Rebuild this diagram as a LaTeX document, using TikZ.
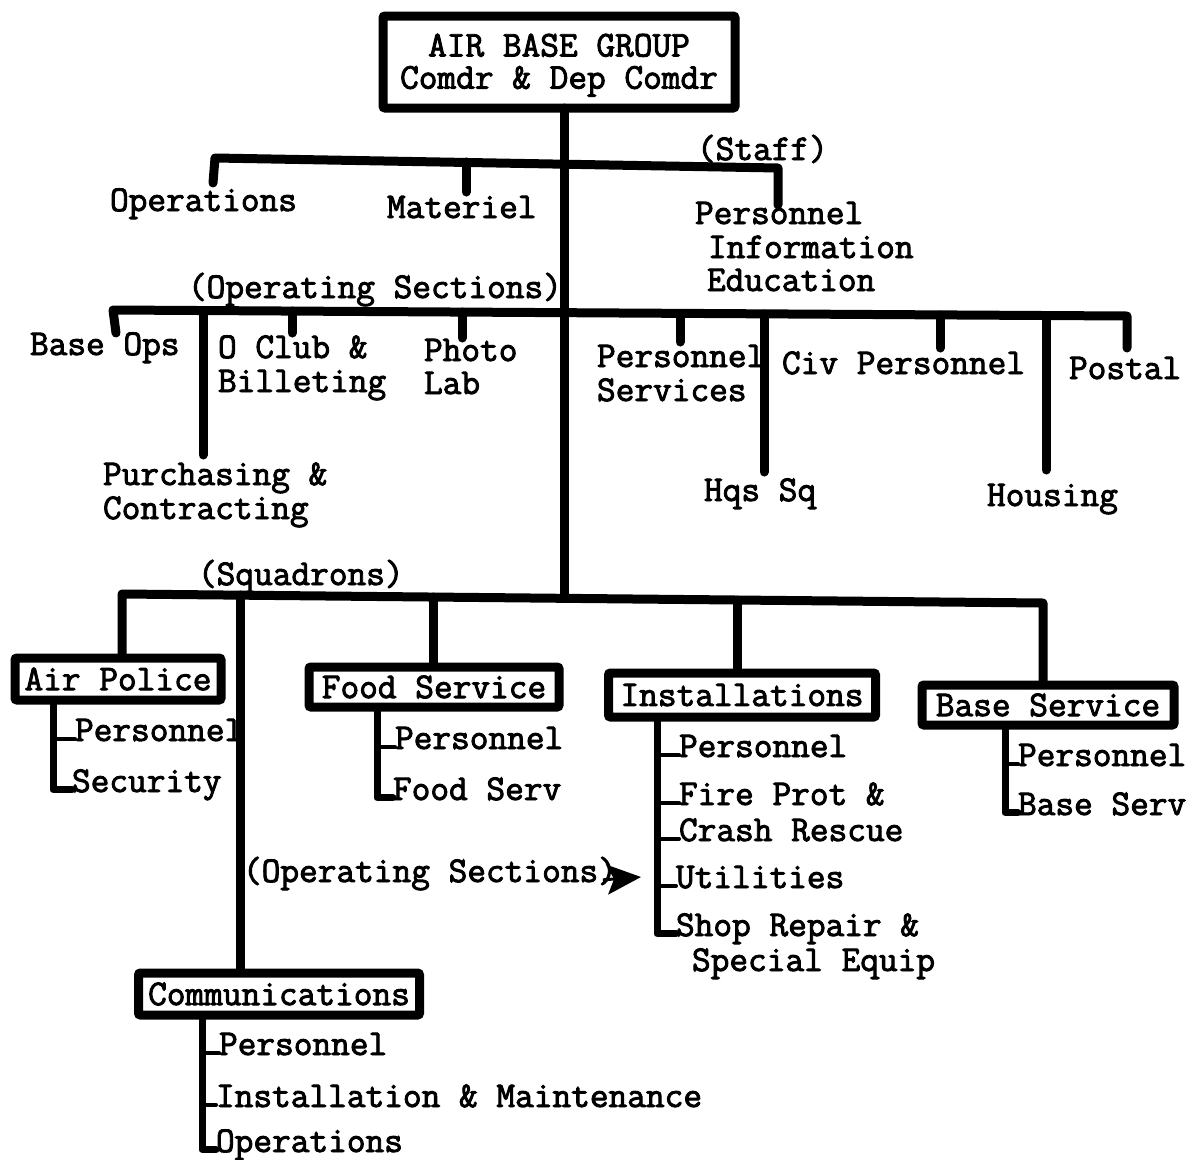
\documentclass[tikz,border=0pt]{standalone}
\usepackage{fontspec}
\newfontfamily\typew{Latin Modern Mono}[FakeBold=2.5]
\usetikzlibrary{arrows.meta}
\newcommand\tyface{\typew\fontsize{36.3}{32}\selectfont}
\begin{document}
\begin{tikzpicture}[x=1pt,y=-1pt,
  lbl/.style={font=\tyface, inner sep=0pt, outer sep=0pt, anchor=base west},
  unit/.style={draw, fill=white, line width=9pt, rounded corners=2pt, inner sep=0pt,
               outer sep=0pt, font=\tyface, align=center},
  bar/.style={line width=9pt, line cap=round, line join=round},
  sub/.style={line width=7pt, line cap=round, line join=round},
  tick/.style={line width=4pt, line cap=round},
  arr/.style={line width=3pt, -{Stealth[length=34pt, width=30pt, inset=7pt]}}]
\useasboundingbox (0,0) rectangle (1190,1159);
\fill[white] (0,0) rectangle (1190,1159);

% ---------- junction points on the bars ----------
\coordinate (stL) at (215,158);  \coordinate (stM) at (466,162);  \coordinate (stR) at (778,168);
\coordinate (sOpsEnd) at (213,183); \coordinate (sMatEnd) at (466,192); \coordinate (sPersEnd) at (778,205);

\coordinate (op1) at (113,310);  \coordinate (op2) at (203,310.5); \coordinate (op3) at (292,311);
\coordinate (op4) at (462,312);  \coordinate (op6) at (680,313.4); \coordinate (op7) at (764,314);
\coordinate (op8) at (940,315);  \coordinate (op9) at (1046,315.5); \coordinate (op10) at (1127,316);
\coordinate (op1e) at (116,333); \coordinate (op2e) at (203,455);  \coordinate (op3e) at (292,333);
\coordinate (op4e) at (462,338); \coordinate (op6e) at (680,342);  \coordinate (op7e) at (764,472);
\coordinate (op8e) at (940,348); \coordinate (op9e) at (1046,470); \coordinate (op10e) at (1127,348);

\coordinate (sq1) at (122,594);  \coordinate (sq2) at (240,595);  \coordinate (sq3) at (433,597);
\coordinate (sqT) at (564,598);  \coordinate (sq5) at (737,600);  \coordinate (sq6) at (1043,603);

\coordinate (apV) at (53,0);  \coordinate (fsV) at (377,0);  \coordinate (inV) at (657,0);
\coordinate (bsV) at (1005,0); \coordinate (cmV) at (202,0);
\coordinate (arrtip) at (641,877);

% ---------- headquarters ----------
\node[unit, minimum width=352pt, minimum height=92pt] (top) at (559,62)
  {\raisebox{-4pt}[\height][\depth]{\begin{tabular}{@{}c@{}}AIR BASE GROUP\\Comdr \& Dep Comdr\end{tabular}}};

% ---------- staff ----------
\node[lbl] (staff) at (697,160) {(Staff)};
\node[lbl] (sOps)  at (110,211) {Operations};
\node[lbl] (sMat)  at (387,218) {Materiel};
\node[lbl] (sPers) at (695,224) {Personnel};
\node[lbl] (sInfo) at (708,258) {Information};
\node[lbl] (sEdu)  at (707,291) {Education};

% ---------- operating sections ----------
\node[lbl] (opsl)    at (188,298) {(Operating Sections)};
\node[lbl] (baseops) at (30,355)  {Base Ops};
\node[lbl] (oclubA)  at (218,358) {O Club \&};
\node[lbl] (oclubB)  at (218,392) {Billeting};
\node[lbl] (photoA)  at (424,361) {Photo};
\node[lbl] (photoB)  at (424,394) {Lab};
\node[lbl] (persA)   at (597,367) {Personnel};
\node[lbl] (persB)   at (597,401) {Services};
\node[lbl] (civ)     at (782,374) {Civ Personnel};
\node[lbl] (postal)  at (1069,379) {Postal};
\node[lbl] (purchA)  at (103,485) {Purchasing \&};
\node[lbl] (purchB)  at (103,519) {Contracting};
\node[lbl] (hqs)     at (704,501) {Hqs Sq};
\node[lbl] (housing) at (987,506) {Housing};

% ---------- squadron sections ----------
\node[lbl] (sql) at (198,585) {(Squadrons)};
\node[lbl] (apPers) at (75,741)  {Personnel};
\node[lbl] (apSec)  at (72,792)  {Security};
\node[lbl] (fsPers) at (395,749) {Personnel};
\node[lbl] (fsServ) at (393,800) {Food Serv};
\node[lbl] (inPers)  at (679,757) {Personnel};
\node[lbl] (inFire)  at (679,805) {Fire Prot \&};
\node[lbl] (inCrash) at (679,841) {Crash Rescue};
\node[lbl] (inUtil)  at (676,888) {Utilities};
\node[lbl] (inShopA) at (676,936) {Shop Repair \&};
\node[lbl] (inShopB) at (692,971) {Special Equip};
\node[lbl] (bsPers) at (1018,766) {Personnel};
\node[lbl] (bsServ) at (1018,815) {Base Serv};
\node[lbl] (cmPers) at (219,1055) {Personnel};
\node[lbl] (cmInst) at (216,1107) {Installation \& Maintenance};
\node[lbl] (cmOps)  at (216,1152) {Operations};
\node[lbl] (opsl2)  at (243,882) {(Operating Sections)};

% ---------- main trunk and bars ----------
\draw[bar] (top.south -| sqT) -- (sqT);
\draw[bar] (sOpsEnd) -- (stL) -- (stR) -- (sPersEnd);
\draw[bar] (stM) -- (sMatEnd);

\draw[bar] (op1e) -- (op1) -- (op10) -- (op10e);
\draw[bar] (op2) -- (op2e);
\draw[bar] (op3) -- (op3e);
\draw[bar] (op4) -- (op4e);
\draw[bar] (op6) -- (op6e);
\draw[bar] (op7) -- (op7e);
\draw[bar] (op8) -- (op8e);
\draw[bar] (op9) -- (op9e);

% ---------- squadron boxes ----------
\draw[bar] (sq1 |- 0,679) -- (sq1) -- (sq6) -- (sq6 |- 0,705);
\draw[bar] (sq2) -- (sq2 |- 0,994);
\draw[bar] (sq3) -- (sq3 |- 0,687);
\draw[bar] (sq5) -- (sq5 |- 0,695);

\node[unit, minimum width=206pt, minimum height=42pt] (apBox) at (118,679)  {Air Police};
\node[unit, minimum width=250pt, minimum height=40pt] (fsBox) at (434,687)  {Food Service};
\node[unit, minimum width=267pt, minimum height=44pt] (inBox) at (742,695)  {Installations};
\node[unit, minimum width=252pt, minimum height=40pt] (bsBox) at (1048,705) {Base Service};
\node[unit, minimum width=281pt, minimum height=42pt] (cmBox) at (279,994)  {Communications};

% ---------- section lists under each squadron ----------
\draw[sub] (apBox.south -| apV) |- (apSec.mid west);
\draw[tick] (apV |- apPers.mid west) -- (apPers.mid west);

\draw[sub] (fsBox.south -| fsV) |- (fsServ.mid west);
\draw[tick] (fsV |- fsPers.mid west) -- (fsPers.mid west);

\draw[sub] (inBox.south -| inV) |- (inShopA.mid west);
\draw[tick] (inV |- inPers.mid west) -- (inPers.mid west);
\draw[tick] (inV |- inFire.mid west) -- (inFire.mid west);
\draw[tick] (inV |- inCrash.mid west) -- (inCrash.mid west);
\draw[tick] (inV |- inUtil.mid west) -- (inUtil.mid west);

\draw[sub] (bsBox.south -| bsV) |- (bsServ.mid west);
\draw[tick] (bsV |- bsPers.mid west) -- (bsPers.mid west);

\draw[sub] (cmBox.south -| cmV) |- (cmOps.mid west);
\draw[tick] (cmV |- cmPers.mid west) -- (cmPers.mid west);
\draw[tick] (cmV |- cmInst.mid west) -- (cmInst.mid west);

% pointer from the operating-sections note
\draw[arr] ([xshift=-14pt]opsl2.mid east) -- (arrtip);
\end{tikzpicture}
\end{document}
